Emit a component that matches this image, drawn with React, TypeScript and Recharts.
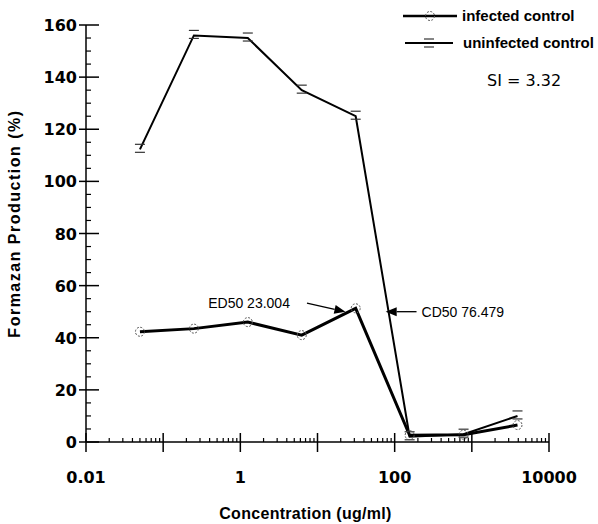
import React from "react";
import { Legend, Line, LineChart, ReferenceLine, XAxis, YAxis } from "recharts";

// concentrations (ug/ml), 5-fold dilution series
const concentrations = [0.05, 0.25, 1.25, 6.25, 31.25, 156.25, 781.25, 3906.25];
const infectedControl = [42.3, 43.5, 46, 41, 51.3, 2.6, 2.8, 6.5];
const uninfectedControl = [112.3, 156, 155, 135, 125, 2, 3, 10];

const xDecades = [0.01, 0.1, 1, 10, 100, 1000, 10000];
const xMinorSteps = [2, 3, 4, 5, 6, 7, 8, 9];
const xTickLabels = [0.01, 1, 100, 10000];
const yTickLabels = [0, 20, 40, 60, 80, 100, 120, 140, 160];
const yMinorStep = 5;

const ed50 = 23.004;
const cd50 = 76.479;
const si = 3.32;

const data = concentrations.map((c, i) => ({
    conc: c,
    infected: infectedControl[i],
    uninfected: uninfectedControl[i],
}));

const xTicks: number[] = [];
xDecades.forEach((d, i) => {
    xTicks.push(d);
    if (i < xDecades.length - 1) xMinorSteps.forEach((k) => xTicks.push(+(d * k).toPrecision(6)));
});
const yTicks: number[] = [];
for (let v = 0; v <= 160; v += yMinorStep) yTicks.push(v);

const tickFont = "'DejaVu Sans', sans-serif";
const boldFont = "'Liberation Sans', Arial, sans-serif";

const isDecade = (v: number) => xDecades.some((d) => Math.abs(d - v) < 1e-9);

const XTick = (props: any) => {
    const { x, y, payload } = props;
    const v = payload.value;
    if (isDecade(v)) {
        return (
            <g>
                <line x1={x} y1={y - 9} x2={x} y2={y + 10} stroke="#000" strokeWidth={1.5} />
                {xTickLabels.some((t) => Math.abs(t - v) < 1e-9) && (
                    <text x={x} y={y + 41} textAnchor="middle" fontFamily={tickFont} fontWeight="bold" fontSize={16} fill="#000">
                        {String(v)}
                    </text>
                )}
            </g>
        );
    }
    return <line x1={x} y1={y} x2={x} y2={y - 4} stroke="#000" strokeWidth={1.2} />;
};

const YTick = (props: any) => {
    const { x, y, payload } = props;
    const v = payload.value;
    if (yTickLabels.includes(v)) {
        return (
            <g>
                <line x1={x - 7} y1={y} x2={x + 13} y2={y} stroke="#000" strokeWidth={1.5} />
                <text x={x - 9} y={y + 6} textAnchor="end" fontFamily={tickFont} fontWeight="bold" fontSize={16} fill="#000">
                    {v}
                </text>
            </g>
        );
    }
    return <line x1={x} y1={y} x2={x + 5} y2={y} stroke="#000" strokeWidth={1.2} />;
};

const CircleDot = (props: any) => {
    const { cx, cy } = props;
    if (cx == null || cy == null) return <g />;
    return <circle cx={cx} cy={cy} r={4.5} fill="none" stroke="#555" strokeWidth={1} strokeDasharray="2 1.5" />;
};

const BarDot = (props: any) => {
    const { cx, cy } = props;
    if (cx == null || cy == null) return <g />;
    return (
        <g stroke="#333" strokeWidth={1.2} fill="none">
            <line x1={cx - 5} y1={cy - 5} x2={cx + 5} y2={cy - 5} />
            <line x1={cx - 5} y1={cy + 3} x2={cx + 5} y2={cy + 3} />
        </g>
    );
};

function arrowShape(label: string, side: "left" | "right", gap: number) {
    return (props: any) => {
        const { x1, y1, x2, y2 } = props;
        if (x1 == null) return <g />;
        const dx = x2 - x1;
        const dy = y2 - y1;
        const len = Math.sqrt(dx * dx + dy * dy) || 1;
        const ux = dx / len;
        const uy = dy / len;
        const bx = x2 - ux * 11;
        const by = y2 - uy * 11;
        const head = `${x2},${y2} ${bx - uy * 4.5},${by + ux * 4.5} ${bx + uy * 4.5},${by - ux * 4.5}`;
        return (
            <g>
                <line x1={x1} y1={y1} x2={bx} y2={by} stroke="#000" strokeWidth={1.3} />
                <polygon points={head} fill="#000" />
                <text
                    x={side === "left" ? x1 - gap : x1 + gap}
                    y={y1 + 5}
                    textAnchor={side === "left" ? "end" : "start"}
                    fontFamily={boldFont}
                    fontSize={14}
                    fill="#000"
                >
                    {label}
                </text>
            </g>
        );
    };
}

const renderLegend = () => (
    <svg width={203} height={100}>
        <line x1={8} y1={16} x2={62} y2={16} stroke="#000" strokeWidth={2.5} />
        <CircleDot cx={35} cy={16} />
        <text x={67} y={21} fontFamily={boldFont} fontWeight="bold" fontSize={15} fill="#000">
            infected control
        </text>
        <line x1={10} y1={43} x2={58} y2={43} stroke="#000" strokeWidth={2} />
        <BarDot cx={34} cy={44} />
        <text x={68} y={48} fontFamily={boldFont} fontWeight="bold" fontSize={15} fill="#000">
            uninfected control
        </text>
        <text x={92} y={86} fontFamily={tickFont} fontSize={16} fill="#000">
            {`SI = ${si}`}
        </text>
    </svg>
);

export default function App() {
    return (
        <div style={{ position: "absolute", left: 0, top: 0, background: "#fff" }}>
            <LineChart
                width={598}
                height={524}
                data={data}
                margin={{ top: 25, right: 49, bottom: 0, left: 0 }}
            >
                <XAxis
                    dataKey="conc"
                    type="number"
                    scale="log"
                    domain={[0.01, 10000]}
                    ticks={xTicks}
                    interval={0}
                    tickSize={0}
                    tickMargin={0}
                    tickLine={false}
                    tick={<XTick />}
                    height={82}
                    axisLine={{ stroke: "#000", strokeWidth: 1.5 }}
                    label={{
                        content: (p: any) => {
                            const vb = p.viewBox;
                            return (
                                <text
                                    x={vb.x + vb.width / 2 - 12}
                                    y={vb.y + 77}
                                    textAnchor="middle"
                                    fontFamily={boldFont}
                                    fontWeight="bold"
                                    fontSize={16}
                                    letterSpacing={0.3}
                                    fill="#000"
                                >
                                    Concentration (ug/ml)
                                </text>
                            );
                        },
                    }}
                />
                <YAxis
                    type="number"
                    domain={[0, 160]}
                    ticks={yTicks}
                    interval={0}
                    tickSize={0}
                    tickMargin={0}
                    tickLine={false}
                    tick={<YTick />}
                    width={86}
                    axisLine={{ stroke: "#000", strokeWidth: 1.5 }}
                    label={{
                        content: (p: any) => {
                            const vb = p.viewBox;
                            const cy = vb.y + vb.height / 2 - 10;
                            return (
                                <text
                                    x={20}
                                    y={cy}
                                    transform={`rotate(-90, 20, ${cy})`}
                                    textAnchor="middle"
                                    fontFamily={boldFont}
                                    fontWeight="bold"
                                    fontSize={16}
                                    letterSpacing={1.5}
                                    fill="#000"
                                >
                                    Formazan Production (%)
                                </text>
                            );
                        },
                    }}
                />
                <Legend
                    layout="horizontal"
                    verticalAlign="middle"
                    align="center"
                    content={renderLegend}
                    wrapperStyle={{ top: 0, left: 395, width: 203, height: 100 }}
                />
                <Line
                    isAnimationActive={false}
                    type="linear"
                    dataKey="uninfected"
                    stroke="#000"
                    strokeWidth={2}
                    dot={<BarDot />}
                />
                <Line
                    isAnimationActive={false}
                    type="linear"
                    dataKey="infected"
                    stroke="#000"
                    strokeWidth={3}
                    dot={<CircleDot />}
                />
                <ReferenceLine
                    segment={[
                        { x: 7.3, y: 53.3 },
                        { x: ed50, y: 50 },
                    ]}
                    shape={arrowShape(`ED50 ${ed50}`, "left", 17)}
                />
                <ReferenceLine
                    segment={[
                        { x: 192, y: 50 },
                        { x: cd50, y: 50 },
                    ]}
                    shape={arrowShape(`CD50 ${cd50}`, "right", 5)}
                />
            </LineChart>
        </div>
    );
}
